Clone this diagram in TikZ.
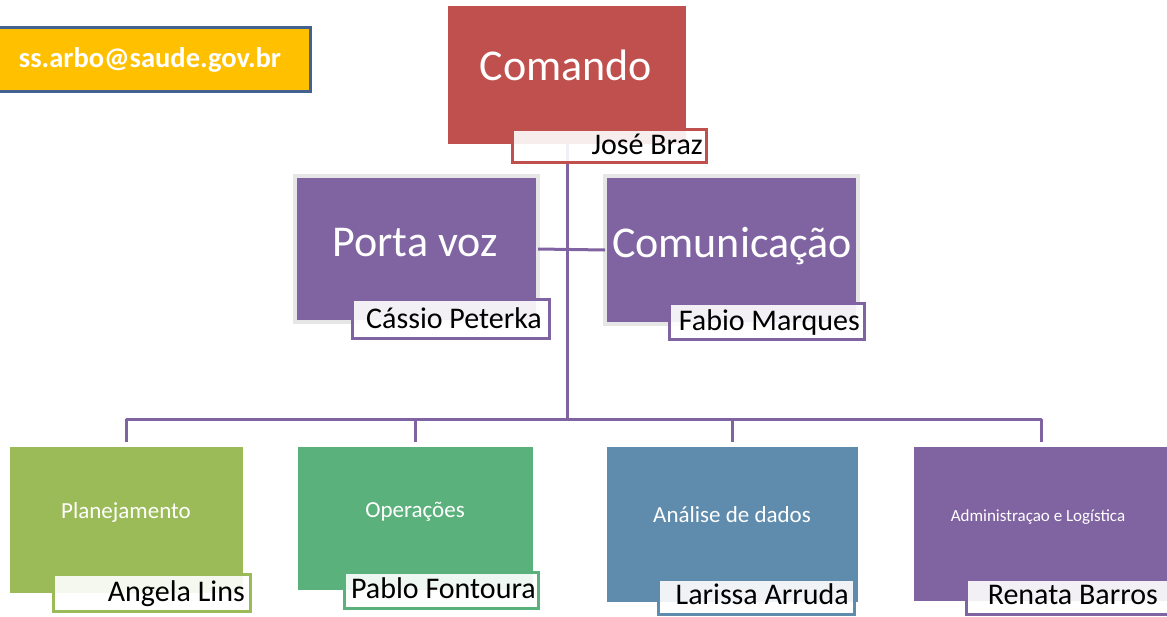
\documentclass[tikz,border=0pt]{standalone}
\usepackage{fontspec}
\setmainfont{Carlito}
\definecolor{cred}{HTML}{C0504D}
\definecolor{cpurple}{HTML}{8064A2}
\definecolor{cgreen}{HTML}{9BBB59}
\definecolor{cteal}{HTML}{5BB17C}
\definecolor{cblue}{HTML}{5F8CAD}
\definecolor{cgold}{HTML}{FFC000}
\definecolor{cmail}{HTML}{44628F}
\definecolor{cgray}{HTML}{E6E6E6}
\begin{document}
\begin{tikzpicture}[x=1pt,y=-1pt,
  box/.style={rectangle, inner sep=0pt, outer sep=0pt, anchor=north west, draw=none},
  graybox/.style={box, draw=cgray, line width=3.5pt},
  namebox/.style={rectangle, inner sep=0pt, outer sep=0pt, anchor=north west, line width=3pt, fill=white, fill opacity=0.9},
  bigtxt/.style={anchor=base, text=white, font=\fontsize{44}{50}\selectfont, inner sep=0pt},
  midtxt/.style={anchor=base, text=white, font=\fontsize{23}{27}\selectfont, inner sep=0pt},
  nametxt/.style={anchor=base east, text=black, font=\fontsize{30}{34}\selectfont, inner sep=0pt},
  conn/.style={draw=cpurple, line width=3pt}]
\useasboundingbox (0,0) rectangle (1167,616);

% e-mail box
\node[box, fill=cgold, draw=cmail, line width=3pt, minimum width=314pt, minimum height=64pt] (mail) at (-4,27.5) {};
\node[anchor=base, text=white, font=\bfseries\fontsize{28.5}{32}\selectfont, inner sep=0pt] (mailT) at (150,67) {ss.arbo@saude.gov.br};

% boxes
\node[box, fill=cred, minimum width=238pt, minimum height=138pt] (comando) at (448,6) {};
\node[graybox, fill=cpurple, minimum width=243pt, minimum height=146pt] (porta) at (295,176) {};
\node[graybox, fill=cpurple, minimum width=253pt, minimum height=148pt] (comun) at (605,176) {};
\node[box, fill=cgreen, minimum width=233pt, minimum height=146pt] (plan) at (10,447) {};
\node[box, fill=cteal, minimum width=235pt, minimum height=143pt] (oper) at (298,447) {};
\node[box, fill=cblue, minimum width=251pt, minimum height=155pt] (anal) at (607,447) {};
\node[box, fill=cpurple, minimum width=255pt, minimum height=154pt] (admin) at (914,447) {};

% box texts
\node[bigtxt] (comandoT) at (566,80) {Comando};
\node[bigtxt] (portaT) at (415,256) {Porta voz};
\node[bigtxt] (comunT) at (732,257) {Comunicação};
\node[midtxt] (planT) at (126,518) {Planejamento};
\node[midtxt] (operT) at (415,517) {Operações};
\node[midtxt] (analT) at (732,522) {Análise de dados};
\node[anchor=base, text=white, font=\fontsize{17}{20}\selectfont, inner sep=0pt] (adminT) at (1038,521) {Administraçao e Logística};

% connectors
\coordinate (bus) at (comando.south |- 0,419);
\draw[conn] (comando.south) -- (bus);
\draw[conn] (porta.east) -- (comun.west);
\draw[conn, line join=round] ([yshift=5pt]plan.north) -- (plan.north |- bus) -- (admin.north |- bus) -- ([yshift=5pt]admin.north);
\draw[conn] ([yshift=5pt]oper.north) -- (oper.north |- bus);
\draw[conn] ([yshift=5pt]anal.north) -- (anal.north |- bus);

% name labels
\node[namebox, draw=cred, minimum width=194pt, minimum height=33pt] (jose) at (512.5,129.5) {};
\node[nametxt] (joseT) at (703,154) {José Braz};
\node[namebox, draw=cpurple, minimum width=197pt, minimum height=39pt] (cassio) at (352.5,299.5) {};
\node[nametxt] (cassioT) at (542,328) {Cássio Peterka};
\node[namebox, draw=cpurple, minimum width=195pt, minimum height=36pt] (fabio) at (669.5,303.5) {};
\node[nametxt] (fabioT) at (860,330) {Fabio Marques};
\node[namebox, draw=cgreen, minimum width=197pt, minimum height=37pt] (angela) at (53.5,574.5) {};
\node[nametxt] (angelaT) at (245,601) {Angela Lins};
\node[namebox, draw=cteal, minimum width=194pt, minimum height=36pt] (pablo) at (344.5,572.5) {};
\node[nametxt] (pabloT) at (536,598) {Pablo Fontoura};
\node[namebox, draw=cblue, minimum width=196pt, minimum height=35pt] (larissa) at (658.5,579.5) {};
\node[nametxt] (larissaT) at (849,604) {Larissa Arruda};
\node[namebox, draw=cpurple, minimum width=203pt, minimum height=35pt] (renata) at (966.5,579.5) {};
\node[nametxt] (renataT) at (1158,604) {Renata Barros};
\end{tikzpicture}
\end{document}
